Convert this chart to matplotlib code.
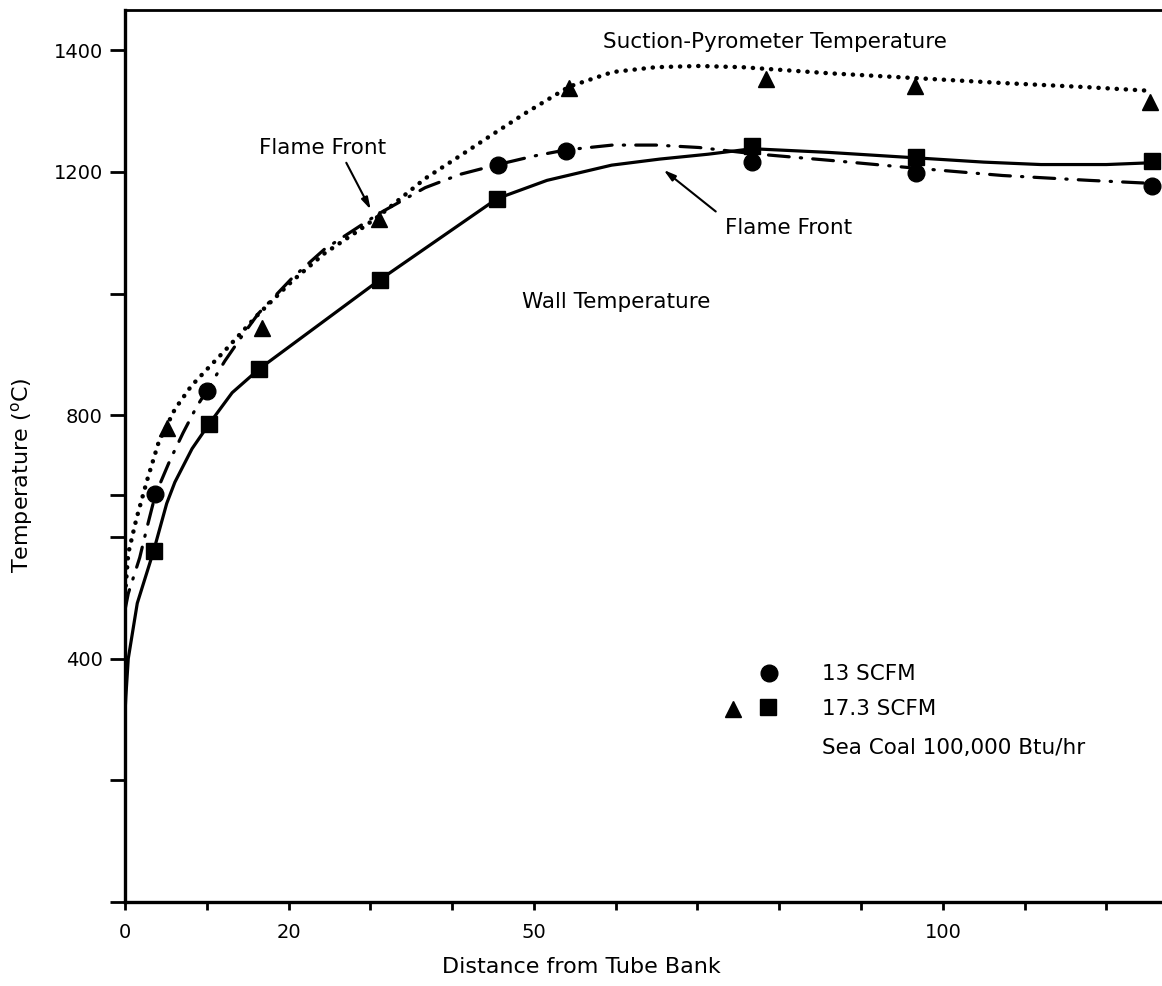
import numpy as np
import matplotlib
matplotlib.use("Agg")
import matplotlib.pyplot as plt

plt.rcParams['font.family'] = ['DejaVu Sans']

# measured points, 13 SCFM (circles)
circ_x = [3.7, 10.0, 45.6, 53.9, 76.7, 96.7, 125.6]
circ_y = [670, 840, 1212, 1235, 1217, 1198, 1177]

# measured points, 17.3 SCFM wall temperature (squares)
sq_x = [3.5, 10.3, 16.4, 31.2, 45.5, 76.7, 96.7, 125.6]
sq_y = [577, 786, 876, 1023, 1156, 1242, 1225, 1218]

# measured points, 17.3 SCFM suction pyrometer (triangles)
tri_x = [5.1, 16.7, 31.0, 54.3, 78.4, 96.6, 125.3]
tri_y = [779, 944, 1122, 1337, 1353, 1341, 1315]

# faired curves
dot_x = [0, 0.4, 1.4, 2.7, 4.1, 6.1, 8.1, 10.2, 12.2, 16.3, 20.4, 24.4, 28.5, 31,
         36.7, 40.7, 45, 48.9, 54.3, 59.6, 64.9, 70.2, 75.5, 80.8, 86.1, 96.7,
         107.3, 117.9, 125.6]
dot_y = [505, 573, 630, 693, 755, 810, 848, 878, 906, 966, 1020, 1066, 1103, 1127,
         1189, 1224, 1262, 1296, 1340, 1364, 1372, 1374, 1372, 1367, 1362, 1354,
         1346, 1339, 1333]

dd_x = [0, 0.4, 1.8, 2.7, 3.7, 5.5, 7.1, 8.8, 10, 12.2, 14.3, 16.3, 20.4, 24.4,
        28.5, 31, 36.7, 41, 45.6, 50, 53.9, 59.6, 64.9, 70.2, 76.7, 86.1, 96.7,
        107.3, 117.9, 125.6]
dd_y = [480, 507, 566, 616, 669, 726, 771, 815, 840, 889, 930, 967, 1025, 1073,
        1109, 1131, 1174, 1196, 1212, 1226, 1236, 1244, 1244, 1240, 1230, 1219,
        1206, 1194, 1186, 1181]

wall_x = [0, 0.1, 0.4, 1.5, 3.5, 5.1, 6.1, 8.2, 10.3, 13.1, 16.4, 31.2,
          45.5, 51.6, 59.5, 65.4, 71.3, 76.7, 86, 96.7, 105, 112, 120, 125.6]
wall_y = [310, 337, 400, 491, 577, 655, 690, 745, 786, 837, 876, 1023,
          1156, 1186, 1211, 1221, 1229, 1238, 1232, 1223, 1216, 1212, 1212, 1215]

fig = plt.figure(figsize=(11.62, 9.86), dpi=100)
ax = fig.add_axes([125 / 1162, 84 / 986, 1037 / 1162, 892 / 986])

lw = 2.3
ax.plot(dot_x, dot_y, color='black', lw=3.2, linestyle=(0, (0.05, 2.0)),
        dash_capstyle='round')
ax.plot(dd_x, dd_y, color='black', lw=lw, linestyle=(0, (6.5, 3.5, 0.4, 3.5)),
        dash_capstyle='round')
ax.plot(wall_x, wall_y, color='black', lw=lw, solid_capstyle='round',
        solid_joinstyle='round')

ax.plot(circ_x, circ_y, 'o', color='black', ms=12, clip_on=False)
ax.plot(sq_x, sq_y, 's', color='black', ms=11, clip_on=False)
ax.plot(tri_x, tri_y, '^', color='black', ms=12, clip_on=False)

ax.set_xlim(0, 126.8)
ax.set_ylim(0, 1466)

ax.set_xticks(np.arange(0, 121, 10))
ax.set_xticklabels(['0', '', '20', '', '', '50', '', '', '', '', '100', '', ''])
ax.set_yticks([0, 200, 400, 600, 669, 800, 1000, 1200, 1400])
ax.set_yticklabels(['', '', '400', '', '', '800', '', '1200', '1400'])
ax.tick_params(axis='y', direction='out', length=11, width=2, labelsize=14, pad=5)
ax.tick_params(axis='x', direction='out', length=6, width=2, labelsize=14, pad=9)

ax.spines['right'].set_visible(False)
for s in ['left', 'bottom']:
    ax.spines[s].set_linewidth(2.4)
ax.spines['top'].set_linewidth(2.0)

ax.set_xlabel('Distance from Tube Bank', fontsize=16)
ax.xaxis.set_label_coords((581 - 125) / 1037, -0.062)
ax.set_ylabel(r'Temperature ($^{\rm o}$C)', fontsize=16)
ax.yaxis.set_label_coords(-0.087, 0.479)

txt = dict(fontsize=15.5, ha='center', va='center')
ax.text(79.5, 1413, 'Suction-Pyrometer Temperature', **txt)
ax.text(60.1, 986, 'Wall Temperature', **txt)
ax.text(24.1, 1239, 'Flame Front', **txt)
ax.text(81.1, 1107, 'Flame Front', **txt)
arrow = dict(arrowstyle='-|>,head_length=0.7,head_width=0.2', color='black', lw=1.5)
ax.annotate('', xy=(30.2, 1134), xytext=(26.9, 1219), arrowprops=arrow)
ax.annotate('', xy=(65.6, 1206), xytext=(72.5, 1132), arrowprops=arrow)

# key
ax.plot([78.7], [376], 'o', color='black', ms=12)
ax.plot([74.4], [318], '^', color='black', ms=12)
ax.plot([78.6], [320], 's', color='black', ms=11)
key = dict(fontsize=15.5, ha='left', va='center')
ax.text(85.2, 374, '13 SCFM', **key)
ax.text(85.2, 317, '17.3 SCFM', **key)
ax.text(85.2, 253, 'Sea Coal 100,000 Btu/hr', **key)

fig.savefig('out.png', dpi=100)
